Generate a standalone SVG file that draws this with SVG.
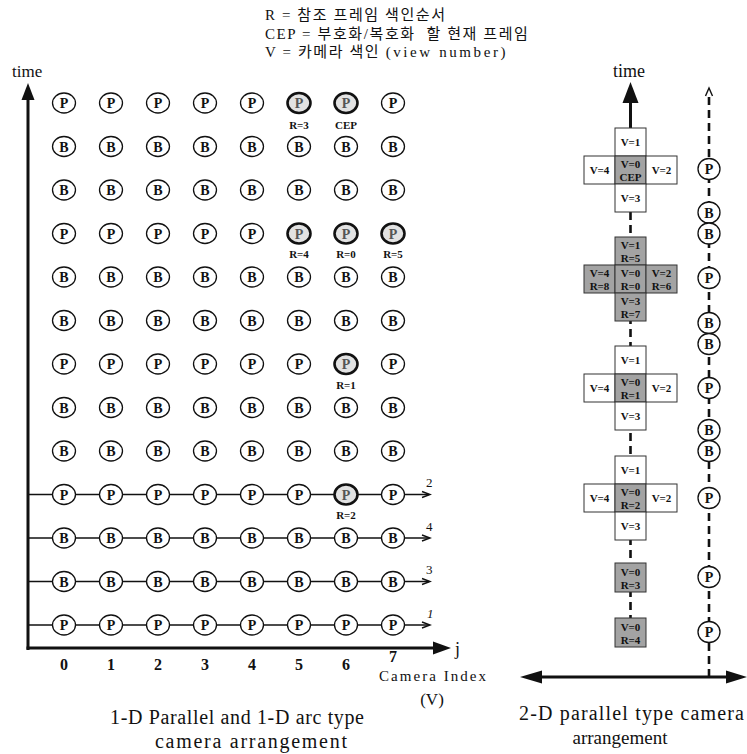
<svg xmlns="http://www.w3.org/2000/svg" width="747" height="754" viewBox="0 0 747 754">
<style>
.c ellipse{fill:#fff;stroke:#111;stroke-width:1.3}
.h ellipse{fill:#e2e2e2;stroke-width:2.6}
.c text{font-family:"Liberation Serif",serif;font-weight:bold;font-size:14px;text-anchor:middle;fill:#111}
.h text{fill:#555}
.lb{font-family:"Liberation Serif",serif;font-weight:bold;font-size:11px;text-anchor:middle;fill:#111}
.t{font-family:"Liberation Serif",serif;fill:#111}
.kr{font-family:"Liberation Serif","Noto Sans CJK KR",serif;font-size:15px;fill:#111;letter-spacing:1.6px;white-space:pre}
.bx rect{fill:#fff;stroke:#333;stroke-width:1}
.bx.s rect{fill:#a3a3a3}
.bx text{font-family:"Liberation Serif",serif;font-weight:bold;font-size:11px;text-anchor:middle;fill:#111}
.ax{stroke:#111;stroke-width:3;fill:none}
.rl{stroke:#111;stroke-width:1.4;fill:none}
.ds{stroke:#111;stroke-width:2.6;fill:none;stroke-dasharray:8 5}
</style>

<g id="legend">
<text class="kr" x="265" y="20">R = 참조 프레임 색인순서</text>
<text class="kr" x="265" y="39">CEP = 부호화/복호화  할 현재 프레임</text>
<text class="kr" x="265" y="57">V = 카메라 색인 <tspan letter-spacing="2.6">(view number)</tspan></text>
</g>

<g id="connectors">
<line class="ax" x1="28" y1="650" x2="28" y2="97"/>
<polygon points="28,83 21.5,100 34.5,100" fill="#111"/>
<line class="ax" x1="26.5" y1="648" x2="434" y2="648"/>
<polygon points="451,648 433,641.5 433,654.5" fill="#111"/>
<line class="rl" x1="28" y1="494.5" x2="429" y2="494.5"/>
<path class="rl" d="M422,491.5 L430,494.5 L422,497.5"/>
<line class="rl" x1="28" y1="538" x2="429" y2="538"/>
<path class="rl" d="M422,535 L430,538 L422,541"/>
<line class="rl" x1="28" y1="581.5" x2="429" y2="581.5"/>
<path class="rl" d="M422,578.5 L430,581.5 L422,584.5"/>
<line class="rl" x1="28" y1="625" x2="429" y2="625"/>
<path class="rl" d="M422,622 L430,625 L422,628"/>
<line class="ax" x1="630.5" y1="100" x2="630.5" y2="128"/>
<polygon points="630.5,82 622.5,103 638.5,103" fill="#111"/>
<line class="ds" x1="630.5" y1="212" x2="630.5" y2="618"/>
<line class="ds" x1="709" y1="677" x2="709" y2="92"/>
<path class="rl" d="M705.5,96 L709,88 L712.5,96" stroke-width="1.6"/>
<line class="ax" x1="538" y1="677" x2="730" y2="677"/>
<polygon points="520,677 542,670.5 542,683.5" fill="#111"/>
<polygon points="747,677 726,670.5 726,683.5" fill="#111"/>
</g>

<g id="axis-labels">
<text class="t" x="12" y="77" font-size="17">time</text>
<text class="t" x="629" y="77" font-size="18" text-anchor="middle">time</text>
<text class="t" x="455" y="655" font-size="18">j</text>
<g font-size="16" text-anchor="middle" font-weight="bold">
<text class="t" x="64" y="670">0</text><text class="t" x="111" y="670">1</text><text class="t" x="158" y="670">2</text><text class="t" x="205" y="670">3</text><text class="t" x="252" y="670">4</text><text class="t" x="299" y="670">5</text><text class="t" x="346" y="670">6</text><text class="t" x="393" y="662">7</text>
</g>
<text class="t" x="379" y="681" font-size="15" textLength="107" lengthAdjust="spacing">Camera Index</text>
<text class="t" x="432" y="705" font-size="17" text-anchor="middle">(V)</text>
<g font-size="13">
<text class="t" x="426" y="487">2</text>
<text class="t" x="426" y="531">4</text>
<text class="t" x="426" y="574">3</text>
<text class="t" x="427" y="618" font-style="italic">1</text>
</g>
<text class="t" x="110" y="724" font-size="20" textLength="254" lengthAdjust="spacing">1-D Parallel and 1-D arc type</text>
<text class="t" x="155" y="748" font-size="20" textLength="192" lengthAdjust="spacing">camera arrangement</text>
<text class="t" x="519" y="720" font-size="20" textLength="225" lengthAdjust="spacing">2-D parallel type camera</text>
<text class="t" x="620" y="744" font-size="19" text-anchor="middle">arrangement</text>
</g>

<g id="frame-labels">
<text class="lb" x="299" y="129">R=3</text>
<text class="lb" x="346" y="129">CEP</text>
<text class="lb" x="299" y="258">R=4</text>
<text class="lb" x="346" y="258">R=0</text>
<text class="lb" x="393" y="258">R=5</text>
<text class="lb" x="346" y="389">R=1</text>
<text class="lb" x="346" y="519">R=2</text>
</g>

<g id="grid">
<g id="r0c0" class="c" transform="translate(64,103)"><ellipse rx="11.5" ry="10"/><text y="5">P</text></g>
<g id="r0c1" class="c" transform="translate(111,103)"><ellipse rx="11.5" ry="10"/><text y="5">P</text></g>
<g id="r0c2" class="c" transform="translate(158,103)"><ellipse rx="11.5" ry="10"/><text y="5">P</text></g>
<g id="r0c3" class="c" transform="translate(205,103)"><ellipse rx="11.5" ry="10"/><text y="5">P</text></g>
<g id="r0c4" class="c" transform="translate(252,103)"><ellipse rx="11.5" ry="10"/><text y="5">P</text></g>
<g id="r0c5" class="c h" transform="translate(299,103)"><ellipse rx="11.5" ry="10"/><text y="5">P</text></g>
<g id="r0c6" class="c h" transform="translate(346,103)"><ellipse rx="11.5" ry="10"/><text y="5">P</text></g>
<g id="r0c7" class="c" transform="translate(393,103)"><ellipse rx="11.5" ry="10"/><text y="5">P</text></g>

<g id="r1c0" class="c" transform="translate(64,146.5)"><ellipse rx="11.5" ry="10"/><text y="5">B</text></g>
<g id="r1c1" class="c" transform="translate(111,146.5)"><ellipse rx="11.5" ry="10"/><text y="5">B</text></g>
<g id="r1c2" class="c" transform="translate(158,146.5)"><ellipse rx="11.5" ry="10"/><text y="5">B</text></g>
<g id="r1c3" class="c" transform="translate(205,146.5)"><ellipse rx="11.5" ry="10"/><text y="5">B</text></g>
<g id="r1c4" class="c" transform="translate(252,146.5)"><ellipse rx="11.5" ry="10"/><text y="5">B</text></g>
<g id="r1c5" class="c" transform="translate(299,146.5)"><ellipse rx="11.5" ry="10"/><text y="5">B</text></g>
<g id="r1c6" class="c" transform="translate(346,146.5)"><ellipse rx="11.5" ry="10"/><text y="5">B</text></g>
<g id="r1c7" class="c" transform="translate(393,146.5)"><ellipse rx="11.5" ry="10"/><text y="5">B</text></g>

<g id="r2c0" class="c" transform="translate(64,190)"><ellipse rx="11.5" ry="10"/><text y="5">B</text></g>
<g id="r2c1" class="c" transform="translate(111,190)"><ellipse rx="11.5" ry="10"/><text y="5">B</text></g>
<g id="r2c2" class="c" transform="translate(158,190)"><ellipse rx="11.5" ry="10"/><text y="5">B</text></g>
<g id="r2c3" class="c" transform="translate(205,190)"><ellipse rx="11.5" ry="10"/><text y="5">B</text></g>
<g id="r2c4" class="c" transform="translate(252,190)"><ellipse rx="11.5" ry="10"/><text y="5">B</text></g>
<g id="r2c5" class="c" transform="translate(299,190)"><ellipse rx="11.5" ry="10"/><text y="5">B</text></g>
<g id="r2c6" class="c" transform="translate(346,190)"><ellipse rx="11.5" ry="10"/><text y="5">B</text></g>
<g id="r2c7" class="c" transform="translate(393,190)"><ellipse rx="11.5" ry="10"/><text y="5">B</text></g>

<g id="r3c0" class="c" transform="translate(64,233.5)"><ellipse rx="11.5" ry="10"/><text y="5">P</text></g>
<g id="r3c1" class="c" transform="translate(111,233.5)"><ellipse rx="11.5" ry="10"/><text y="5">P</text></g>
<g id="r3c2" class="c" transform="translate(158,233.5)"><ellipse rx="11.5" ry="10"/><text y="5">P</text></g>
<g id="r3c3" class="c" transform="translate(205,233.5)"><ellipse rx="11.5" ry="10"/><text y="5">P</text></g>
<g id="r3c4" class="c" transform="translate(252,233.5)"><ellipse rx="11.5" ry="10"/><text y="5">P</text></g>
<g id="r3c5" class="c h" transform="translate(299,233.5)"><ellipse rx="11.5" ry="10"/><text y="5">P</text></g>
<g id="r3c6" class="c h" transform="translate(346,233.5)"><ellipse rx="11.5" ry="10"/><text y="5">P</text></g>
<g id="r3c7" class="c h" transform="translate(393,233.5)"><ellipse rx="11.5" ry="10"/><text y="5">P</text></g>

<g id="r4c0" class="c" transform="translate(64,277)"><ellipse rx="11.5" ry="10"/><text y="5">B</text></g>
<g id="r4c1" class="c" transform="translate(111,277)"><ellipse rx="11.5" ry="10"/><text y="5">B</text></g>
<g id="r4c2" class="c" transform="translate(158,277)"><ellipse rx="11.5" ry="10"/><text y="5">B</text></g>
<g id="r4c3" class="c" transform="translate(205,277)"><ellipse rx="11.5" ry="10"/><text y="5">B</text></g>
<g id="r4c4" class="c" transform="translate(252,277)"><ellipse rx="11.5" ry="10"/><text y="5">B</text></g>
<g id="r4c5" class="c" transform="translate(299,277)"><ellipse rx="11.5" ry="10"/><text y="5">B</text></g>
<g id="r4c6" class="c" transform="translate(346,277)"><ellipse rx="11.5" ry="10"/><text y="5">B</text></g>
<g id="r4c7" class="c" transform="translate(393,277)"><ellipse rx="11.5" ry="10"/><text y="5">B</text></g>

<g id="r5c0" class="c" transform="translate(64,320.5)"><ellipse rx="11.5" ry="10"/><text y="5">B</text></g>
<g id="r5c1" class="c" transform="translate(111,320.5)"><ellipse rx="11.5" ry="10"/><text y="5">B</text></g>
<g id="r5c2" class="c" transform="translate(158,320.5)"><ellipse rx="11.5" ry="10"/><text y="5">B</text></g>
<g id="r5c3" class="c" transform="translate(205,320.5)"><ellipse rx="11.5" ry="10"/><text y="5">B</text></g>
<g id="r5c4" class="c" transform="translate(252,320.5)"><ellipse rx="11.5" ry="10"/><text y="5">B</text></g>
<g id="r5c5" class="c" transform="translate(299,320.5)"><ellipse rx="11.5" ry="10"/><text y="5">B</text></g>
<g id="r5c6" class="c" transform="translate(346,320.5)"><ellipse rx="11.5" ry="10"/><text y="5">B</text></g>
<g id="r5c7" class="c" transform="translate(393,320.5)"><ellipse rx="11.5" ry="10"/><text y="5">B</text></g>

<g id="r6c0" class="c" transform="translate(64,364)"><ellipse rx="11.5" ry="10"/><text y="5">P</text></g>
<g id="r6c1" class="c" transform="translate(111,364)"><ellipse rx="11.5" ry="10"/><text y="5">P</text></g>
<g id="r6c2" class="c" transform="translate(158,364)"><ellipse rx="11.5" ry="10"/><text y="5">P</text></g>
<g id="r6c3" class="c" transform="translate(205,364)"><ellipse rx="11.5" ry="10"/><text y="5">P</text></g>
<g id="r6c4" class="c" transform="translate(252,364)"><ellipse rx="11.5" ry="10"/><text y="5">P</text></g>
<g id="r6c5" class="c" transform="translate(299,364)"><ellipse rx="11.5" ry="10"/><text y="5">P</text></g>
<g id="r6c6" class="c h" transform="translate(346,364)"><ellipse rx="11.5" ry="10"/><text y="5">P</text></g>
<g id="r6c7" class="c" transform="translate(393,364)"><ellipse rx="11.5" ry="10"/><text y="5">P</text></g>

<g id="r7c0" class="c" transform="translate(64,407.5)"><ellipse rx="11.5" ry="10"/><text y="5">B</text></g>
<g id="r7c1" class="c" transform="translate(111,407.5)"><ellipse rx="11.5" ry="10"/><text y="5">B</text></g>
<g id="r7c2" class="c" transform="translate(158,407.5)"><ellipse rx="11.5" ry="10"/><text y="5">B</text></g>
<g id="r7c3" class="c" transform="translate(205,407.5)"><ellipse rx="11.5" ry="10"/><text y="5">B</text></g>
<g id="r7c4" class="c" transform="translate(252,407.5)"><ellipse rx="11.5" ry="10"/><text y="5">B</text></g>
<g id="r7c5" class="c" transform="translate(299,407.5)"><ellipse rx="11.5" ry="10"/><text y="5">B</text></g>
<g id="r7c6" class="c" transform="translate(346,407.5)"><ellipse rx="11.5" ry="10"/><text y="5">B</text></g>
<g id="r7c7" class="c" transform="translate(393,407.5)"><ellipse rx="11.5" ry="10"/><text y="5">B</text></g>

<g id="r8c0" class="c" transform="translate(64,451)"><ellipse rx="11.5" ry="10"/><text y="5">B</text></g>
<g id="r8c1" class="c" transform="translate(111,451)"><ellipse rx="11.5" ry="10"/><text y="5">B</text></g>
<g id="r8c2" class="c" transform="translate(158,451)"><ellipse rx="11.5" ry="10"/><text y="5">B</text></g>
<g id="r8c3" class="c" transform="translate(205,451)"><ellipse rx="11.5" ry="10"/><text y="5">B</text></g>
<g id="r8c4" class="c" transform="translate(252,451)"><ellipse rx="11.5" ry="10"/><text y="5">B</text></g>
<g id="r8c5" class="c" transform="translate(299,451)"><ellipse rx="11.5" ry="10"/><text y="5">B</text></g>
<g id="r8c6" class="c" transform="translate(346,451)"><ellipse rx="11.5" ry="10"/><text y="5">B</text></g>
<g id="r8c7" class="c" transform="translate(393,451)"><ellipse rx="11.5" ry="10"/><text y="5">B</text></g>

<g id="r9c0" class="c" transform="translate(64,494.5)"><ellipse rx="11.5" ry="10"/><text y="5">P</text></g>
<g id="r9c1" class="c" transform="translate(111,494.5)"><ellipse rx="11.5" ry="10"/><text y="5">P</text></g>
<g id="r9c2" class="c" transform="translate(158,494.5)"><ellipse rx="11.5" ry="10"/><text y="5">P</text></g>
<g id="r9c3" class="c" transform="translate(205,494.5)"><ellipse rx="11.5" ry="10"/><text y="5">P</text></g>
<g id="r9c4" class="c" transform="translate(252,494.5)"><ellipse rx="11.5" ry="10"/><text y="5">P</text></g>
<g id="r9c5" class="c" transform="translate(299,494.5)"><ellipse rx="11.5" ry="10"/><text y="5">P</text></g>
<g id="r9c6" class="c h" transform="translate(346,494.5)"><ellipse rx="11.5" ry="10"/><text y="5">P</text></g>
<g id="r9c7" class="c" transform="translate(393,494.5)"><ellipse rx="11.5" ry="10"/><text y="5">P</text></g>

<g id="r10c0" class="c" transform="translate(64,538)"><ellipse rx="11.5" ry="10"/><text y="5">B</text></g>
<g id="r10c1" class="c" transform="translate(111,538)"><ellipse rx="11.5" ry="10"/><text y="5">B</text></g>
<g id="r10c2" class="c" transform="translate(158,538)"><ellipse rx="11.5" ry="10"/><text y="5">B</text></g>
<g id="r10c3" class="c" transform="translate(205,538)"><ellipse rx="11.5" ry="10"/><text y="5">B</text></g>
<g id="r10c4" class="c" transform="translate(252,538)"><ellipse rx="11.5" ry="10"/><text y="5">B</text></g>
<g id="r10c5" class="c" transform="translate(299,538)"><ellipse rx="11.5" ry="10"/><text y="5">B</text></g>
<g id="r10c6" class="c" transform="translate(346,538)"><ellipse rx="11.5" ry="10"/><text y="5">B</text></g>
<g id="r10c7" class="c" transform="translate(393,538)"><ellipse rx="11.5" ry="10"/><text y="5">B</text></g>

<g id="r11c0" class="c" transform="translate(64,581.5)"><ellipse rx="11.5" ry="10"/><text y="5">B</text></g>
<g id="r11c1" class="c" transform="translate(111,581.5)"><ellipse rx="11.5" ry="10"/><text y="5">B</text></g>
<g id="r11c2" class="c" transform="translate(158,581.5)"><ellipse rx="11.5" ry="10"/><text y="5">B</text></g>
<g id="r11c3" class="c" transform="translate(205,581.5)"><ellipse rx="11.5" ry="10"/><text y="5">B</text></g>
<g id="r11c4" class="c" transform="translate(252,581.5)"><ellipse rx="11.5" ry="10"/><text y="5">B</text></g>
<g id="r11c5" class="c" transform="translate(299,581.5)"><ellipse rx="11.5" ry="10"/><text y="5">B</text></g>
<g id="r11c6" class="c" transform="translate(346,581.5)"><ellipse rx="11.5" ry="10"/><text y="5">B</text></g>
<g id="r11c7" class="c" transform="translate(393,581.5)"><ellipse rx="11.5" ry="10"/><text y="5">B</text></g>

<g id="r12c0" class="c" transform="translate(64,625)"><ellipse rx="11.5" ry="10"/><text y="5">P</text></g>
<g id="r12c1" class="c" transform="translate(111,625)"><ellipse rx="11.5" ry="10"/><text y="5">P</text></g>
<g id="r12c2" class="c" transform="translate(158,625)"><ellipse rx="11.5" ry="10"/><text y="5">P</text></g>
<g id="r12c3" class="c" transform="translate(205,625)"><ellipse rx="11.5" ry="10"/><text y="5">P</text></g>
<g id="r12c4" class="c" transform="translate(252,625)"><ellipse rx="11.5" ry="10"/><text y="5">P</text></g>
<g id="r12c5" class="c" transform="translate(299,625)"><ellipse rx="11.5" ry="10"/><text y="5">P</text></g>
<g id="r12c6" class="c" transform="translate(346,625)"><ellipse rx="11.5" ry="10"/><text y="5">P</text></g>
<g id="r12c7" class="c" transform="translate(393,625)"><ellipse rx="11.5" ry="10"/><text y="5">P</text></g>
</g>

<g id="cross1">
<g id="x1-top" class="bx"><rect x="615" y="128" width="31" height="28"/><text x="630.5" y="146">V=1</text></g>
<g id="x1-left" class="bx"><rect x="584" y="156" width="31" height="28"/><text x="599.5" y="174">V=4</text></g>
<g id="x1-center" class="bx s"><rect x="615" y="156" width="31" height="28"/><text x="630.5" y="168">V=0</text><text x="630.5" y="181">CEP</text></g>
<g id="x1-right" class="bx"><rect x="646" y="156" width="31" height="28"/><text x="661.5" y="174">V=2</text></g>
<g id="x1-bottom" class="bx"><rect x="615" y="184" width="31" height="28"/><text x="630.5" y="202">V=3</text></g>
</g>

<g id="cross2">
<g id="x2-top" class="bx s"><rect x="615" y="237" width="31" height="28"/><text x="630.5" y="249">V=1</text><text x="630.5" y="262">R=5</text></g>
<g id="x2-left" class="bx s"><rect x="584" y="265" width="31" height="28"/><text x="599.5" y="277">V=4</text><text x="599.5" y="290">R=8</text></g>
<g id="x2-center" class="bx s"><rect x="615" y="265" width="31" height="28"/><text x="630.5" y="277">V=0</text><text x="630.5" y="290">R=0</text></g>
<g id="x2-right" class="bx s"><rect x="646" y="265" width="31" height="28"/><text x="661.5" y="277">V=2</text><text x="661.5" y="290">R=6</text></g>
<g id="x2-bottom" class="bx s"><rect x="615" y="293" width="31" height="28"/><text x="630.5" y="305">V=3</text><text x="630.5" y="318">R=7</text></g>
</g>

<g id="cross3">
<g id="x3-top" class="bx"><rect x="615" y="346" width="31" height="28"/><text x="630.5" y="364">V=1</text></g>
<g id="x3-left" class="bx"><rect x="584" y="374" width="31" height="28"/><text x="599.5" y="392">V=4</text></g>
<g id="x3-center" class="bx s"><rect x="615" y="374" width="31" height="28"/><text x="630.5" y="386">V=0</text><text x="630.5" y="399">R=1</text></g>
<g id="x3-right" class="bx"><rect x="646" y="374" width="31" height="28"/><text x="661.5" y="392">V=2</text></g>
<g id="x3-bottom" class="bx"><rect x="615" y="402" width="31" height="28"/><text x="630.5" y="420">V=3</text></g>
</g>

<g id="cross4">
<g id="x4-top" class="bx"><rect x="615" y="456" width="31" height="28"/><text x="630.5" y="474">V=1</text></g>
<g id="x4-left" class="bx"><rect x="584" y="484" width="31" height="28"/><text x="599.5" y="502">V=4</text></g>
<g id="x4-center" class="bx s"><rect x="615" y="484" width="31" height="28"/><text x="630.5" y="496">V=0</text><text x="630.5" y="509">R=2</text></g>
<g id="x4-right" class="bx"><rect x="646" y="484" width="31" height="28"/><text x="661.5" y="502">V=2</text></g>
<g id="x4-bottom" class="bx"><rect x="615" y="512" width="31" height="28"/><text x="630.5" y="530">V=3</text></g>
</g>

<g id="box5" class="bx s"><rect x="615" y="563" width="31" height="29"/><text x="630.5" y="576">V=0</text><text x="630.5" y="589">R=3</text></g>
<g id="box6" class="bx s"><rect x="615" y="618" width="31" height="29"/><text x="630.5" y="631">V=0</text><text x="630.5" y="644">R=4</text></g>

<g id="rcol">
<g id="rp1" class="c" transform="translate(709,169)"><ellipse rx="11" ry="10.5"/><text y="5">P</text></g>
<g id="rb1" class="c" transform="translate(709,212.5)"><ellipse rx="11" ry="10.5"/><text y="5">B</text></g>
<g id="rb2" class="c" transform="translate(709,233.5)"><ellipse rx="11" ry="10.5"/><text y="5">B</text></g>
<g id="rp2" class="c" transform="translate(709,278)"><ellipse rx="11" ry="10.5"/><text y="5">P</text></g>
<g id="rb3" class="c" transform="translate(709,323)"><ellipse rx="11" ry="10.5"/><text y="5">B</text></g>
<g id="rb4" class="c" transform="translate(709,344)"><ellipse rx="11" ry="10.5"/><text y="5">B</text></g>
<g id="rp3" class="c" transform="translate(709,388)"><ellipse rx="11" ry="10.5"/><text y="5">P</text></g>
<g id="rb5" class="c" transform="translate(709,430)"><ellipse rx="11" ry="10.5"/><text y="5">B</text></g>
<g id="rb6" class="c" transform="translate(709,451)"><ellipse rx="11" ry="10.5"/><text y="5">B</text></g>
<g id="rp4" class="c" transform="translate(709,498)"><ellipse rx="11" ry="10.5"/><text y="5">P</text></g>
<g id="rp5" class="c" transform="translate(709,577)"><ellipse rx="11" ry="10.5"/><text y="5">P</text></g>
<g id="rp6" class="c" transform="translate(709,632)"><ellipse rx="11" ry="10.5"/><text y="5">P</text></g>
</g>
</svg>
